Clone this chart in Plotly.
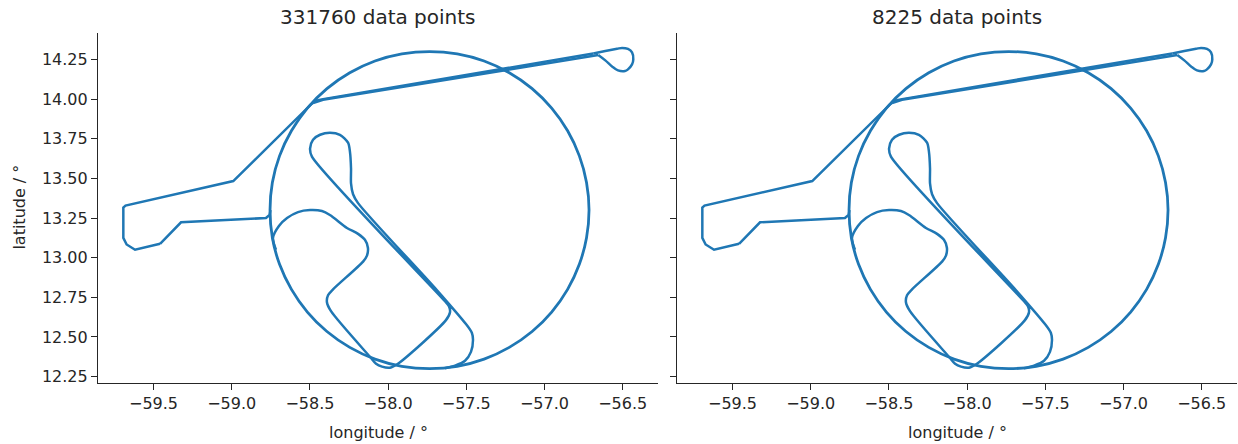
import plotly.graph_objects as go

# Flight track pieces (longitude / latitude in degrees)
# Departure from Barbados and transit north-east to the eastern turn
departure_lon = [-59.458, -59.618, -59.672, -59.693, -59.693, -59.679, -58.990, -58.480,
                 -58.448, -58.416, -56.688]
departure_lat = [13.0875, 13.050, 13.083, 13.125, 13.316, 13.328, 13.483, 13.979,
                 13.993, 14.000, 14.2875]

# Eastern turn
turn_lon = [-56.688, -56.611, -56.536, -56.504, -56.466, -56.440, -56.432, -56.440,
            -56.466, -56.485, -56.530, -56.568, -56.611, -56.656]
turn_lat = [14.2875, 14.303, 14.317, 14.323, 14.316, 14.294, 14.250, 14.219,
            14.1875, 14.177, 14.181, 14.206, 14.244, 14.278]

# Transit back west to the circle
back_lon = [-56.656, -58.416, -58.480]
back_lat = [14.278, 13.996, 13.975]

# Circle pattern
circle_lon = [-58.480, -58.516, -58.618, -58.694, -58.740, -58.755, -58.740, -58.694,
              -58.618, -58.516, -58.391, -58.245, -58.084, -57.912, -57.735, -57.558,
              -57.386, -57.225, -57.079, -56.954, -56.852, -56.777, -56.731, -56.715,
              -56.731, -56.777, -56.852, -56.954, -57.079, -57.225, -57.386, -57.558,
              -57.735, -57.912, -58.084, -58.245, -58.391, -58.516, -58.618]
circle_lat = [13.979, 13.943, 13.800, 13.642, 13.474, 13.300, 13.126, 12.958,
              12.800, 12.657, 12.534, 12.434, 12.360, 12.315, 12.300, 12.315,
              12.360, 12.434, 12.534, 12.657, 12.800, 12.958, 13.126, 13.300,
              13.474, 13.642, 13.800, 13.943, 14.066, 14.166, 14.240, 14.285,
              14.300, 14.285, 14.240, 14.166, 14.066, 13.943, 13.800]

# Legs inside the circle
inner_lon = [-57.636, -57.572, -57.508, -57.470, -57.457, -57.464, -57.502, -57.687,
             -58.192, -58.224, -58.237, -58.237, -58.244, -58.256, -58.308, -58.372,
             -58.435, -58.480, -58.499, -58.487, -57.636, -57.611, -57.604, -57.630,
             -57.937, -57.988, -58.039, -58.077, -58.116, -58.365, -58.391, -58.384,
             -58.352, -58.160, -58.135, -58.129, -58.148, -58.192, -58.263, -58.372,
             -58.423, -58.499, -58.576, -58.646, -58.698, -58.736, -58.717]
inner_lat = [12.303, 12.319, 12.350, 12.406, 12.481, 12.525, 12.581, 12.794,
             13.344, 13.400, 13.469, 13.5625, 13.669, 13.725, 13.775, 13.7875,
             13.775, 13.744, 13.6875, 13.6375, 12.725, 12.694, 12.656, 12.606,
             12.331, 12.306, 12.3125, 12.331, 12.375, 12.6625, 12.719, 12.7625,
             12.800, 12.975, 13.0125, 13.0625, 13.1125, 13.150, 13.1875, 13.269,
             13.294, 13.300, 13.2875, 13.250, 13.200, 13.125, 13.050]

# Return leg to Barbados
return_lon = [-58.752, -58.758, -58.781, -59.324, -59.458]
return_lat = [13.300, 13.269, 13.250, 13.223, 13.0875]

titles = ["331760 data points", "8225 data points"]
x_ticks = [-59.5, -59.0, -58.5, -58.0, -57.5, -57.0, -56.5]
y_ticks = [12.25, 12.50, 12.75, 13.00, 13.25, 13.50, 13.75, 14.00, 14.25]

W, H = 1238, 444
TEXT = "#262626"
LINE = "#1f77b4"
FONT = "DejaVu Sans"

# (lon, lat, smoothing, width) per flight segment; smoothing 0 = straight lines
segments = [(departure_lon, departure_lat, 0.0, 2.5),
            (turn_lon, turn_lat, 1.0, 2.5),
            (back_lon, back_lat, 0.0, 2.5),
            (circle_lon, circle_lat, 1.3, 2.8),
            (inner_lon, inner_lat, 0.8, 2.5),
            (return_lon, return_lat, 0.0, 2.5)]

fig = go.Figure()
for ax in ["", "2"]:
    for seg_lon, seg_lat, smooth, width in segments:
        shape = "spline" if smooth > 0 else "linear"
        line = dict(color=LINE, width=width, shape=shape)
        if smooth > 0:
            line["smoothing"] = smooth
        fig.add_trace(go.Scatter(x=seg_lon, y=seg_lat, mode="lines", line=line,
                                 showlegend=False, hoverinfo="skip",
                                 xaxis="x" + ax, yaxis="y" + ax))

panels = [(98, 658), (677, 1237)]
y_dom = [1 - 386 / H, 1 - 33 / H]
x_range = [-59.855, -56.274]
y_range = [12.2125, 14.41875]

axis_common = dict(showgrid=False, zeroline=False, showline=True, linecolor=TEXT,
                   linewidth=1.2, ticks="outside", ticklen=6, tickwidth=1.2,
                   tickcolor=TEXT, tickfont=dict(family=FONT, size=16, color=TEXT))

layout = dict(width=W, height=H, margin=dict(l=0, r=0, t=0, b=0),
              paper_bgcolor="white", plot_bgcolor="white", annotations=[])
for i, (x0, x1) in enumerate(panels):
    sfx = "" if i == 0 else str(i + 1)
    layout["xaxis" + sfx] = dict(axis_common, domain=[x0 / W, x1 / W], range=x_range,
                                 tickvals=x_ticks, tickformat=".1f",
                                 anchor="y" + sfx)
    layout["yaxis" + sfx] = dict(axis_common, domain=y_dom, range=y_range,
                                 tickvals=y_ticks, tickformat=".2f",
                                 showticklabels=(i == 0), anchor="x" + sfx)
    cx = (x0 + x1) / 2 / W
    layout["annotations"].append(dict(text=titles[i], x=cx, y=1 - 17 / H, xref="paper",
                                      yref="paper", showarrow=False, xanchor="center",
                                      yanchor="middle",
                                      font=dict(family=FONT, size=20, color=TEXT)))
    layout["annotations"].append(dict(text="longitude / °", x=cx, y=1 - 436 / H,
                                      xref="paper", yref="paper", showarrow=False,
                                      xanchor="center", yanchor="middle",
                                      font=dict(family=FONT, size=16, color=TEXT)))

layout["annotations"].append(dict(text="latitude / °", x=20 / W, y=1 - 209.5 / H,
                                  xref="paper", yref="paper", showarrow=False,
                                  textangle=-90, xanchor="center", yanchor="middle",
                                  font=dict(family=FONT, size=16, color=TEXT)))

fig.update_layout(**layout)
fig.write_html("out.html")
